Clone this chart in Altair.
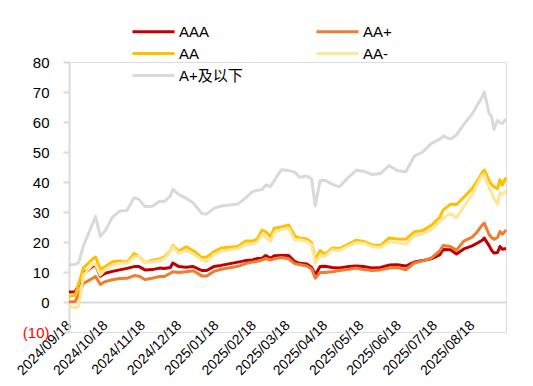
import altair as alt
import pandas as pd

dates = ["2024-09-18","2024-09-23","2024-09-26","2024-09-30","2024-10-08","2024-10-10","2024-10-14","2024-10-18","2024-10-24","2024-10-30",
         "2024-11-05","2024-11-11","2024-11-15","2024-11-20","2024-11-26","2024-12-02","2024-12-06","2024-12-11","2024-12-13","2024-12-18",
         "2024-12-24","2024-12-30","2025-01-06","2025-01-10","2025-01-16","2025-01-22","2025-02-05","2025-02-11","2025-02-17","2025-02-21",
         "2025-02-25","2025-02-28","2025-03-04","2025-03-07","2025-03-13","2025-03-19","2025-03-24","2025-03-28","2025-04-03","2025-04-07",
         "2025-04-10","2025-04-14","2025-04-18","2025-04-24","2025-04-30","2025-05-08","2025-05-14","2025-05-20","2025-05-27","2025-06-03",
         "2025-06-10","2025-06-17","2025-06-24","2025-07-01","2025-07-08","2025-07-15","2025-07-22","2025-07-25","2025-07-31","2025-08-05",
         "2025-08-11","2025-08-18","2025-08-22","2025-08-26","2025-08-28","2025-09-01","2025-09-03","2025-09-05","2025-09-08","2025-09-10",
         "2025-09-12","2025-09-15"]

aaa = [3.3,3.4,5.5,9.5,12,12.4,8.6,9.6,10.2,10.7,
       11.2,11.8,11.8,10.7,10.8,11.3,11.2,11.5,13,11.8,
       11.6,11.8,10.5,10.5,11.8,12.2,13.3,13.8,14,14.5,
       14.6,15.5,14.6,15.4,15.5,15.5,13.5,12.9,12.7,11.5,
       9,11.8,11.9,11.5,11.3,11.8,12,11.8,11.3,11.5,
       12.3,12.4,12,13.3,13.8,14.4,15.7,17.5,17.4,16,
       17.7,18.7,19.6,20.5,21.3,18.8,17.3,16.3,16.5,18.5,
       17.6,17.8]

aa_plus = [0.1,0.1,2.5,6.2,8,8.5,5.8,6.8,7.4,7.8,
           7.9,8.8,8.6,7.5,7.9,8.5,8.5,9.6,10.1,9.8,
           10.1,10.4,8.7,8.7,10.2,10.9,11.9,12.8,13.3,13.6,
           14,14.5,14,14.4,14.8,14.4,12.8,12.5,12,11,
           7.9,9.8,9.8,10.1,10.5,10.9,11.3,10.8,10.5,10.7,
           11.3,11.5,10.7,13,13.7,14.6,17,18.8,18.5,17.3,
           20.3,21.6,23.3,25.5,26.3,22.5,21.5,20.9,21.5,23.5,
           22.6,24]

aa = [1.8,2.2,6,11.4,14.5,15,10.8,11.8,13.4,13.7,
      13.2,16.2,15.2,13.1,13.9,14.3,15,17.1,18.8,17,
      18.4,17.1,14.8,15,16.8,18,18.5,20.3,20.3,21,
      24,23.4,21.8,24.6,25,25.7,22,21.3,21,19.7,
      14,17.2,15.8,18,17.8,19.4,20.6,20.2,19,18.8,
      21.3,21,20.9,23.4,23.8,25.5,28.2,30.7,32.6,32.5,
      34.9,37.8,40.2,43,44,40.5,39.2,38.4,37.8,40.8,
      39,41.5]

aa_minus = [-1.2,-2,-1.5,9,12.7,12.5,9,10.8,12.3,12.9,
            12.9,15,15.3,13.2,13.4,13.8,14.5,16.8,18.5,16.2,
            17.3,16,14,13.5,15.8,17,17.8,19.2,19.3,20,
            22.4,21.5,20.2,23,24.2,24.6,20.6,20.8,20.2,19,
            12.9,15.5,15.2,17.4,17.2,18.8,19.8,19.6,18.5,18.2,
            20,19.8,19.2,22,22.8,24,26.8,28,29.5,28,
            31.8,35.7,39,42,42.5,38,36.5,34.5,32.5,36.4,
            35.8,37]

a_plus_below = [12.4,12.5,13.2,18.8,26.5,28.5,21.8,23.8,28.3,30.3,
                30.5,34.8,34.2,31.8,31.9,33.6,33.5,35.4,37.5,35.8,
                34.6,33,29.5,29.3,31.2,32,32.7,34.6,36.8,37.2,
                37.5,39,38.5,40.5,44.1,43.8,43.3,41.6,42,41,
                32,40.5,40.6,39.3,38.4,41.8,43.9,43.6,42.5,42.8,
                45.5,43.8,43.4,48.6,50,52.8,54.3,55.3,54.3,55.7,
                59.2,62.7,65.5,68.1,70,62.8,62,57.5,60.5,59.8,
                59.5,61]

series_names = ["AAA", "AA+", "AA", "AA-", "A+及以下"]
series_values = [aaa, aa_plus, aa, aa_minus, a_plus_below]
colors = ["#C00000", "#ED7D31", "#FFC000", "#FFE699", "#D9D9D9"]
widths = [3, 3, 3, 3, 2]

y_ticks = [-10, 0, 10, 20, 30, 40, 50, 60, 70, 80]
x_tick_labels = ["2024-09-18", "2024-10-18", "2024-11-18", "2024-12-18", "2025-01-18", "2025-02-18",
                 "2025-03-18", "2025-04-18", "2025-05-18", "2025-06-18", "2025-07-18", "2025-08-18"]
x_domain = ["2024-09-18", "2025-09-15"]

rows = []
for name, vals in zip(series_names, series_values):
    for d, v in zip(dates, vals):
        rows.append({"date": d, "series": name, "value": v})
df = pd.DataFrame(rows)


def ts(s):
    return int(pd.Timestamp(s, tz="UTC").value // 10**6)


FONT = "Liberation Sans, Noto Sans CJK SC, sans-serif"

chart = alt.Chart(df).mark_line(strokeJoin="round", strokeCap="butt").encode(
    x=alt.X("date:T",
            scale=alt.Scale(type="utc", domain=[ts(s) for s in x_domain], nice=False),
            axis=alt.Axis(values=[ts(s) for s in x_tick_labels],
                          labelExpr="utcFormat(datum.value, '%Y/%m/%d')",
                          labelAngle=-45, labelAlign="right", labelBaseline="middle",
                          labelPadding=21, ticks=False, tickSize=0, offset=-30,
                          domainColor="#D9D9D9", domainWidth=2, grid=False, title=None,
                          labelFontSize=14, labelColor="#000000", labelOverlap=False, labelFlush=False)),
    y=alt.Y("value:Q",
            scale=alt.Scale(domain=[-10, 80], nice=False, zero=False),
            axis=alt.Axis(values=y_ticks, grid=False, title=None, domainColor="#D9D9D9", domainWidth=2,
                          tickColor="#D9D9D9", tickSize=6, tickWidth=2, labelPadding=14, labelFontSize=15,
                          labelExpr="datum.value < 0 ? '(' + abs(datum.value) + ')' : datum.label",
                          labelColor={"condition": {"test": "datum.value < 0", "value": "#FF0000"}, "value": "#000000"})),
    color=alt.Color("series:N",
                    scale=alt.Scale(domain=series_names, range=colors),
                    legend=alt.Legend(title=None, orient="none", legendX=77, legendY=-38, columns=2,
                                      direction="horizontal",
                                      symbolType="M-5,0H5", symbolSize=70.56, symbolStrokeWidth=3,
                                      labelFontSize=15, labelOffset=18, columnPadding=67, rowPadding=6,
                                      padding=0, labelColor="#000000")),
    strokeWidth=alt.StrokeWidth("series:N", scale=alt.Scale(domain=series_names, range=widths), legend=None),
).properties(
    width=437, height=270,
    autosize=alt.AutoSizeParams(type="none"),
    padding={"left": 61, "top": 54, "right": 19, "bottom": 46},
).configure_view(stroke=None).configure(font=FONT)

chart.save("out.html", embed_options={"renderer": "svg", "actions": False})
